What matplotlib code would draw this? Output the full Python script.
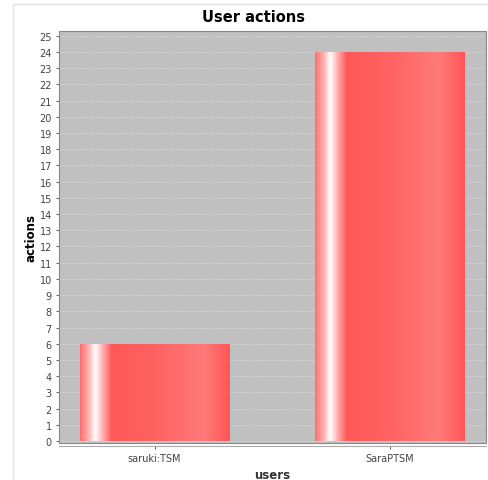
import numpy as np
import matplotlib
matplotlib.use('Agg')
import matplotlib.pyplot as plt
from matplotlib.colors import LinearSegmentedColormap
from matplotlib.patches import Rectangle

users = ['saruki:TSM', 'SaraPTSM']
actions = [6, 24]
y_ticks = list(range(0, 26))

fig = plt.figure(figsize=(4.89, 4.81), dpi=100)
fig.patch.set_facecolor('white')

# light frame around the chart panel
frame = Rectangle((13 / 489, -0.05), 1.0, (481 - 5) / 481 + 0.05,
                  transform=fig.transFigure, facecolor='white',
                  edgecolor='#e2e2e2', linewidth=1.0, zorder=-5)
fig.patches.append(frame)

ax = fig.add_axes([59.5 / 489, (481 - 444) / 481, (485.6 - 59.5) / 489, (444 - 32.3) / 481])
ax.set_facecolor('#c0c0c0')

x = np.arange(len(users))
bars = ax.bar(x, actions, width=0.634, color='#ff5555', edgecolor='none', zorder=2)

# shaded bar fill: white highlight near the left, lighter towards the right
grad = LinearSegmentedColormap.from_list('bar', [
    (0.0, '#ff7070'), (0.06, '#ffb4b4'), (0.1, '#ffffff'), (0.15, '#ffb0b0'),
    (0.21, '#ff5858'), (0.5, '#ff6262'), (0.83, '#ff7a7a'), (1.0, '#ff5555')])
ramp = np.linspace(0, 1, 256).reshape(1, -1)
for b in bars:
    x0, w, h = b.get_x(), b.get_width(), b.get_height()
    im = ax.imshow(ramp, cmap=grad, aspect='auto', extent=(x0, x0 + w, 0, h),
                   zorder=3, interpolation='bilinear')
    im.set_clip_path(b)

ax.set_xlim(-0.404, 1.408)
ax.set_ylim(-0.12, 25.27)
ax.set_yticks(y_ticks)
ax.set_xticks(x)
ax.set_xticklabels(users)
ax.yaxis.grid(True, color='#dddddd', linestyle=(0, (2, 2)), linewidth=0.6)
ax.set_axisbelow(True)

ax.tick_params(axis='both', labelsize=7, colors='#444444', length=2, width=0.6)
ax.tick_params(axis='x', pad=3)

# plot border plus a separate category axis line just below it
for side in ['top', 'right', 'left']:
    ax.spines[side].set_visible(False)
ax.spines['bottom'].set_position(('outward', 2))
ax.spines['bottom'].set_color('#aaaaaa')
ax.spines['bottom'].set_linewidth(0.8)
ax.add_patch(Rectangle((0, 0), 1, 1, transform=ax.transAxes, fill=False,
                       edgecolor='#888888', linewidth=0.8, zorder=5, clip_on=False))

fig.text(254 / 489, 1 - 17 / 481, 'User actions', fontsize=10.5, fontweight='bold',
         ha='center', va='center')
ax.set_ylabel('actions', fontsize=8.5, fontweight='bold')
ax.yaxis.set_label_coords(-0.052, 0.5)
ax.set_xlabel('users', fontsize=8.5, fontweight='bold', labelpad=4, color='#333333')

fig.savefig('out.png', dpi=100)
